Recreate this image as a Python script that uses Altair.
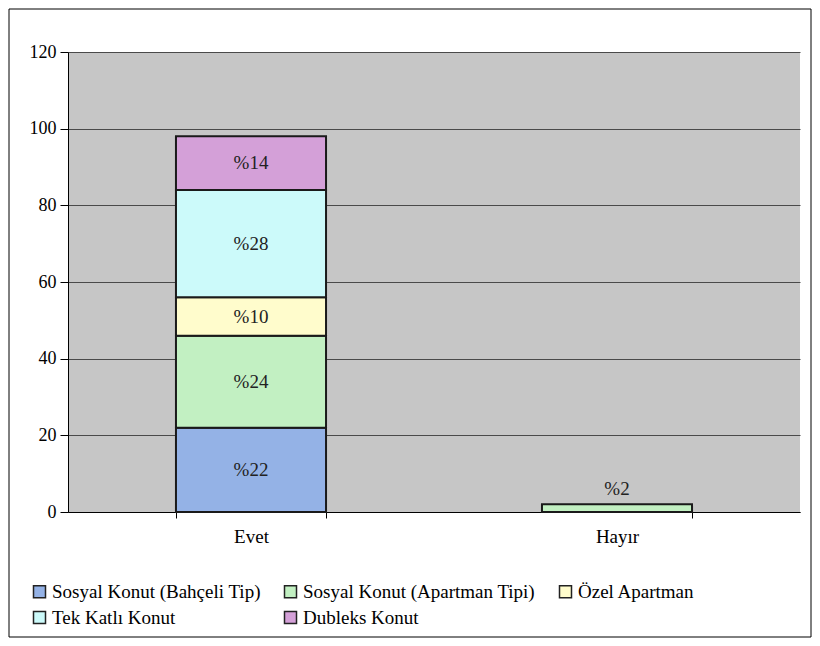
import altair as alt
import pandas as pd

categories = ["Evet", "Hayır"]
series = [
    "Sosyal Konut (Bahçeli Tip)",
    "Sosyal Konut (Apartman Tipi)",
    "Özel Apartman",
    "Tek Katlı Konut",
    "Dubleks Konut",
]
evet_values = [22, 24, 10, 28, 14]
hayir_values = [0, 2, 0, 0, 0]
colors = ["#94b2e6", "#c2f0c2", "#fffccc", "#ccfafa", "#d4a0d8"]
y_ticks = [0, 20, 40, 60, 80, 100, 120]

rows = []
for i, s in enumerate(series):
    for cat, vals in zip(categories, [evet_values, hayir_values]):
        if vals[i] > 0:
            rows.append({"kategori": cat, "seri": s, "deger": vals[i], "sira": i})
df = pd.DataFrame(rows)

FONT = "Liberation Serif"

x_enc = alt.X(
    "kategori:N",
    sort=categories,
    scale=alt.Scale(paddingInner=0.59, paddingOuter=0.295),
    axis=alt.Axis(
        title=None, labelAngle=0, labelFont=FONT, labelFontSize=19,
        labelColor="black", domainColor="black", tickColor="black",
        tickBand="extent", tickSize=6, labelPadding=9,
    ),
)
y_scale = alt.Scale(domain=[0, 120])

bars = alt.Chart(df).mark_bar(stroke="#1a1a1a", strokeWidth=2).encode(
    x=x_enc,
    y=alt.Y(
        "deger:Q", stack="zero", scale=y_scale,
        axis=alt.Axis(
            values=y_ticks, title=None, labelFont=FONT, labelFontSize=18,
            labelColor="black", domainColor="black", tickColor="black",
            tickSize=8, labelPadding=4, gridColor="#4a4a4a", gridWidth=1,
        ),
    ),
    color=alt.Color(
        "seri:N", sort=series,
        scale=alt.Scale(domain=series, range=colors),
        legend=alt.Legend(
            title=None, orient="none", legendX=-38, legendY=530,
            direction="horizontal", columns=3, symbolType="square",
            symbolSize=144, symbolStrokeColor="#222", symbolStrokeWidth=1.5,
            symbolOffset=0, labelOffset=3,
            labelFont=FONT, labelFontSize=19, labelColor="black", labelLimit=0,
            rowPadding=6, columnPadding=20, symbolOpacity=1,
        ),
    ),
    order=alt.Order("sira:Q"),
)

stacked = alt.Chart(df).transform_stack(
    stack="deger", groupby=["kategori"], sort=[alt.SortField("sira")], as_=["y0", "y1"]
).transform_calculate(
    mid="(datum.y0 + datum.y1) / 2", etiket="'%' + datum.deger"
)

inner_text = stacked.transform_filter("datum.kategori == 'Evet'").mark_text(
    font=FONT, fontSize=19, color="#222"
).encode(x=alt.X("kategori:N", sort=categories), y=alt.Y("mid:Q", scale=y_scale), text="etiket:N")

top_text = stacked.transform_filter("datum.kategori == 'Hayır'").mark_text(
    font=FONT, fontSize=19, color="#222", baseline="bottom", dy=-5
).encode(x=alt.X("kategori:N", sort=categories), y=alt.Y("y1:Q", scale=y_scale), text="etiket:N")

frame = alt.Chart(pd.DataFrame({"a": [0]})).mark_rect(
    fillOpacity=0, stroke="black", strokeWidth=1
).encode(x=alt.value(-59), x2=alt.value(743), y=alt.value(-43), y2=alt.value(585))

chart = alt.layer(bars, inner_text, top_text, frame).properties(
    width=732, height=460,
    padding={"left": 60, "top": 44, "right": 12, "bottom": 126},
    autosize=alt.AutoSizeParams(type="none"),
    background="white",
).configure_view(fill="#c6c6c6", strokeWidth=0)

chart.save("out.html", embed_options={"renderer": "svg", "actions": False})
